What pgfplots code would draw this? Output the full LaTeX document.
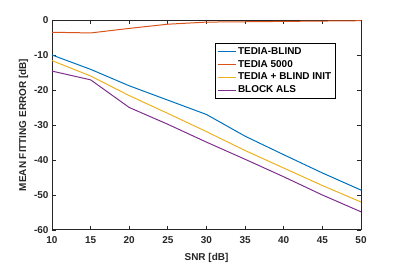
\documentclass[border=0pt]{standalone}
\usepackage{fontspec}
\setmainfont{Liberation Sans}
\usepackage{pgfplots}
\pgfplotsset{compat=1.18}
\definecolor{mblue}{rgb}{0,0.447,0.741}
\definecolor{morange}{rgb}{0.85,0.325,0.098}
\definecolor{myellow}{rgb}{0.929,0.694,0.125}
\definecolor{mpurple}{rgb}{0.494,0.184,0.556}
\definecolor{axgray}{rgb}{0.15,0.15,0.15}
\begin{document}
\begin{tikzpicture}[x=1bp,y=1bp]
\path (0,0) rectangle (399,264);
\begin{axis}[
  at={(52bp,34bp)}, anchor=south west,
  width=309bp, height=210bp, scale only axis,
  xmin=10, xmax=50, ymin=-60, ymax=0,
  xtick={10,15,...,50}, ytick={-60,-50,...,0},
  tick align=inside,
  axis line style={axgray, line width=1pt},
  major tick style={axgray, line width=0.8pt},
  major tick length=4bp,
  /pgf/number format/assume math mode=true,
  tick label style={font=\bfseries\fontsize{10}{12}\selectfont, text=axgray},
  xticklabel style={yshift=-3pt},
  label style={font=\bfseries\fontsize{10}{12}\selectfont, text=axgray},
  xlabel={SNR [dB]}, ylabel={MEAN FITTING ERROR [dB]},
  xlabel style={yshift=-3pt},
  ylabel style={yshift=-1pt},
  legend style={at={(0.527,0.890)}, anchor=north west,
    font=\bfseries\fontsize{10}{12}\selectfont, inner sep=2pt, row sep=0.5pt},
  legend image code/.code={\draw[#1, line width=1pt] (0bp,0bp) -- (18bp,0bp);},
  legend cell align=left,
  every axis plot/.append style={line width=1pt},
]
\addplot[color=mblue] coordinates {(10,-10) (15,-14.1) (20,-18.8) (25,-22.9) (30,-27) (35,-33.2) (40,-38.5) (45,-43.7) (50,-48.6)};
\addlegendentry{TEDIA-BLIND}
\addplot[color=morange] coordinates {(10,-3.5) (15,-3.7) (20,-2.4) (25,-1.2) (30,-0.6) (35,-0.5) (40,-0.4) (45,-0.3) (50,-0.2)};
\addlegendentry{TEDIA 5000}
\addplot[color=myellow] coordinates {(10,-11.6) (15,-16) (20,-21.6) (25,-26.7) (30,-31.9) (35,-37.3) (40,-42.3) (45,-47.3) (50,-52)};
\addlegendentry{TEDIA + BLIND INIT}
\addplot[color=mpurple] coordinates {(10,-14.6) (15,-17.1) (20,-25) (25,-29.8) (30,-34.9) (35,-39.8) (40,-44.8) (45,-50) (50,-54.8)};
\addlegendentry{BLOCK ALS}
\end{axis}
\end{tikzpicture}
\end{document}
